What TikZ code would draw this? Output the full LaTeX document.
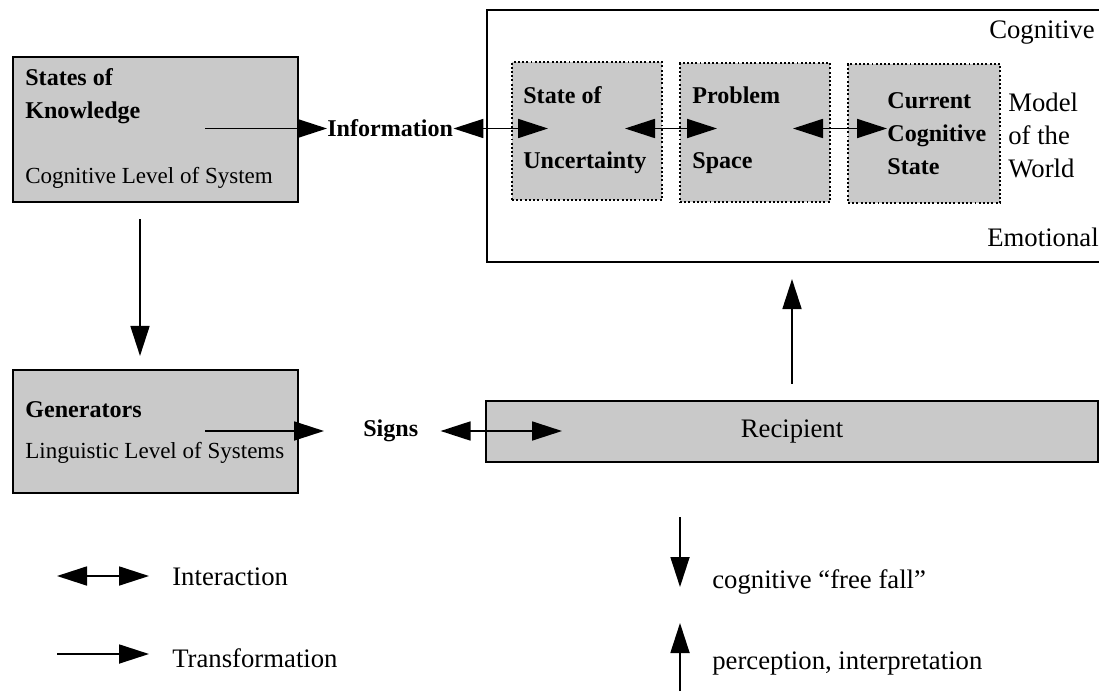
\documentclass[tikz,border=0pt]{standalone}
\usepackage{fontspec}
\setmainfont{Liberation Serif}
\usetikzlibrary{arrows.meta}
\definecolor{halftone}{gray}{0.79}

\begin{document}
\begin{tikzpicture}
\tikzset{>={Triangle[length=0.6cm,width=0.38cm]}}
\tikzset{
  solidbox/.style={draw, line width=1.2pt, fill=halftone, inner sep=0pt},
  dotbox/.style={draw, line width=1.2pt, dash pattern=on 1.1pt off 1.3pt, fill=halftone, inner sep=0pt},
  boldtxt/.style={font=\fontsize{13.7}{18.8}\selectfont\bfseries, inner sep=0pt, align=left},
  subtxt/.style={font=\fontsize{13.1}{18.8}\selectfont, inner sep=0pt},
  plaintxt/.style={font=\fontsize{15.2}{18.8}\selectfont, inner sep=0pt, align=left},
  trans/.style={->, line width=1pt},
  inter/.style={<->, line width=1pt}
}
\useasboundingbox (0,0) rectangle (21.98,13.82);
\clip (0,0) rectangle (21.98,13.82);

\node[solidbox, minimum width=5.7cm, minimum height=2.9cm] (sok) at (3.11,11.23) {};
\node[boldtxt, anchor=west] (sok-txt) at (0.5,11.9) {States of\\Knowledge};
\node[subtxt, anchor=west] (sok-sub) at (0.5,10.26) {Cognitive Level of System};
\coordinate (sok-out) at (4.1,11.25);
\node[boldtxt, anchor=west] (info) at (6.54,11.25) {Information};
\draw[trans] (sok-out) -- (info.west);

\node[draw, line width=1.2pt, minimum width=12.56cm, minimum height=5.04cm] (world) at (16.02,11.1) {};
\node[plaintxt, anchor=east] (cog-txt) at (21.9,13.16) {Cognitive};
\node[plaintxt, anchor=east] (emo-txt) at (21.98,9.08) {Emotional};
\node[plaintxt, anchor=west] (model-txt) at (20.16,11.12) {Model\\of the\\World};

\node[dotbox, minimum width=3cm, minimum height=2.76cm] (unc) at (11.74,11.2) {};
\node[boldtxt, anchor=west] (unc-top) at (10.46,11.92) {State of};
\node[boldtxt, anchor=west] (unc-bot) at (10.46,10.56) {Uncertainty};
\node[dotbox, minimum width=3cm, minimum height=2.78cm] (prob) at (15.1,11.17) {};
\node[boldtxt, anchor=west] (prob-top) at (13.84,11.92) {Problem};
\node[boldtxt, anchor=west] (prob-bot) at (13.84,10.56) {Space};
\node[dotbox, minimum width=3.04cm, minimum height=2.78cm] (cur) at (18.48,11.15) {};
\node[boldtxt, anchor=west] (cur-txt) at (17.74,11.14) {Current\\Cognitive\\State};

\coordinate (unc-in) at (10.96,11.25);
\coordinate (unc-out) at (12.5,11.25);
\coordinate (prob-in) at (14.34,11.25);
\coordinate (prob-out) at (15.86,11.25);
\draw[inter] (info.east) -- (unc-in);
\draw[inter] (unc-out) -- (prob-in);
\draw[inter] (prob-out) -- (prob-out -| cur-txt.west);

\node[solidbox, minimum width=5.7cm, minimum height=2.46cm] (gen) at (3.11,5.19) {};
\node[boldtxt, anchor=west] (gen-txt) at (0.5,5.62) {Generators};
\node[subtxt, anchor=west] (gen-sub) at (0.5,4.76) {Linguistic Level of Systems};
\draw[trans, shorten <=0.32cm, shorten >=0.26cm] ([xshift=-0.31cm]sok.south) -- ([xshift=-0.31cm]gen.north);

\coordinate (gen-out) at (4.1,5.2);
\node[boldtxt, anchor=west] (signs) at (7.26,5.2) {Signs};
\draw[trans, shorten >=0.78cm] (gen-out) -- (gen-out -| signs.west);

\node[solidbox, font=\fontsize{15.2}{18.8}\selectfont, minimum width=12.24cm, minimum height=1.22cm] (rec) at (15.84,5.19) {Recipient};
\coordinate (rec-in) at (11.24,5.2);
\draw[inter, shorten <=0.44cm] (signs.east) -- (rec-in);
\draw[trans, shorten <=0.32cm, shorten >=0.32cm] (rec.north) -- (rec.north |- world.south);

\node[plaintxt, anchor=west] (int-lbl) at (3.44,2.28) {Interaction};
\coordinate (int-a) at (1.14,2.3);
\draw[inter, shorten >=0.46cm] (int-a) -- (int-a -| int-lbl.west);
\node[plaintxt, anchor=west] (trans-lbl) at (3.44,0.66) {Transformation};
\coordinate (trans-a) at (1.14,0.74);
\draw[trans, shorten >=0.46cm] (trans-a) -- (trans-a -| trans-lbl.west);

\node[plaintxt, anchor=west] (fall-lbl) at (14.24,2.18) {cognitive “free fall”};
\coordinate (fall-a) at (13.6,3.48);
\coordinate (fall-b) at (13.6,2.08);
\draw[trans] (fall-a) -- (fall-b);
\node[plaintxt, anchor=west] (perc-lbl) at (14.24,0.56) {perception, interpretation};
\coordinate (perc-a) at (13.6,0);
\coordinate (perc-b) at (13.6,1.36);
\draw[trans] (perc-a) -- (perc-b);

\end{tikzpicture}
\end{document}
